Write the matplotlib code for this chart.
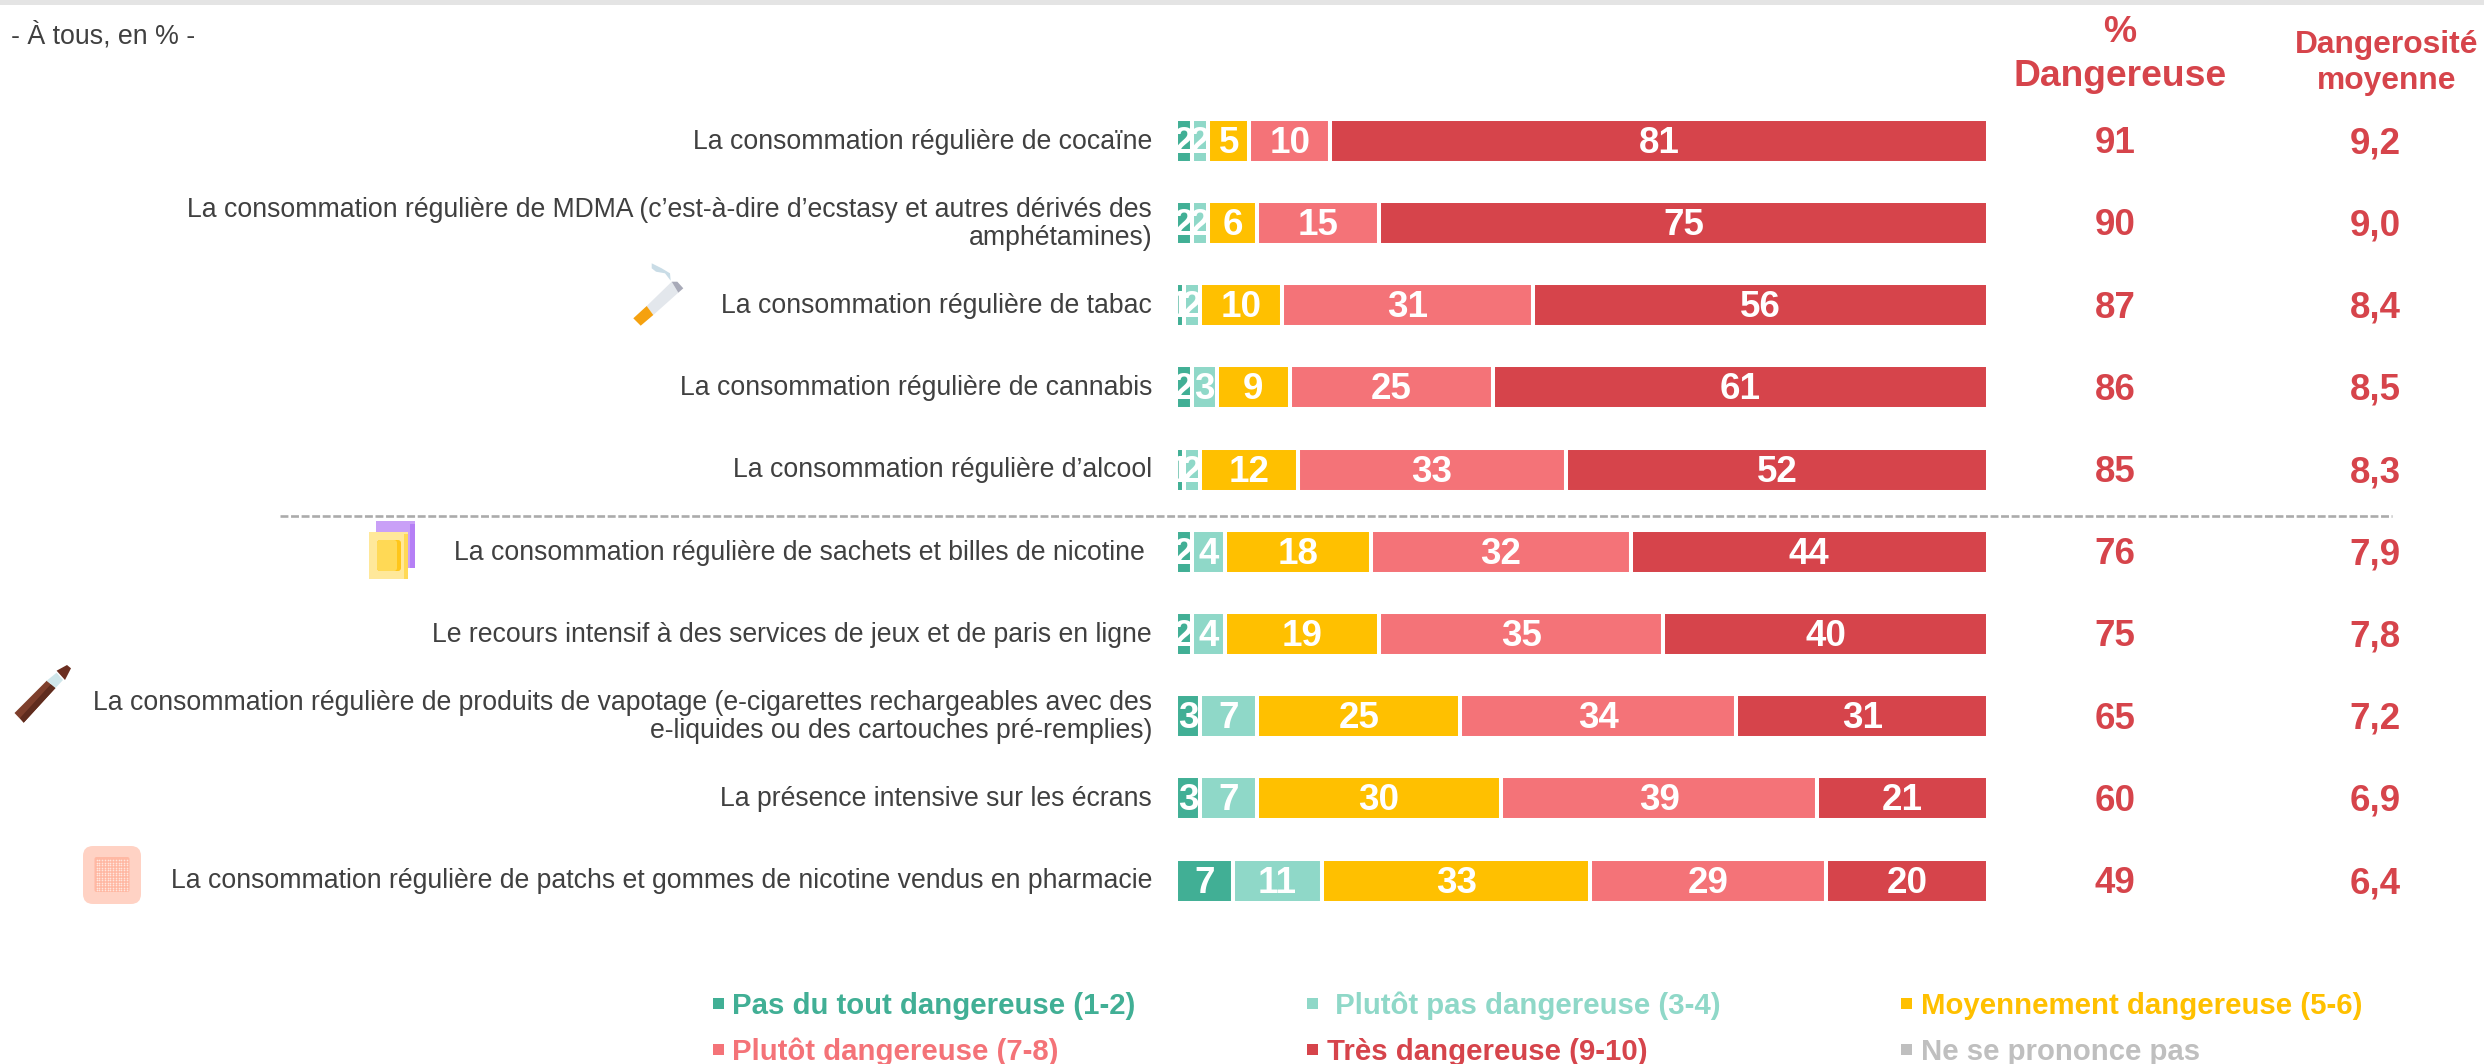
import matplotlib
matplotlib.use('Agg')
import matplotlib.pyplot as plt
from matplotlib.patches import Rectangle, Polygon, FancyBboxPatch
from matplotlib.transforms import blended_transform_factory

plt.rcParams['font.family'] = ['Liberation Sans', 'DejaVu Sans']

# Data
categories = [
    "La consommation régulière de cocaïne",
    "La consommation régulière de MDMA (c’est-à-dire d’ecstasy et autres dérivés des\namphétamines)",
    "La consommation régulière de tabac",
    "La consommation régulière de cannabis",
    "La consommation régulière d’alcool",
    "La consommation régulière de sachets et billes de nicotine ",
    "Le recours intensif à des services de jeux et de paris en ligne",
    "La consommation régulière de produits de vapotage (e-cigarettes rechargeables avec des\ne-liquides ou des cartouches pré-remplies)",
    "La présence intensive sur les écrans",
    "La consommation régulière de patchs et gommes de nicotine vendus en pharmacie",
]
pas_du_tout = [2, 2, 1, 2, 1, 2, 2, 3, 3, 7]
plutot_pas = [2, 2, 2, 3, 2, 4, 4, 7, 7, 11]
moyen = [5, 6, 10, 9, 12, 18, 19, 25, 30, 33]
plutot = [10, 15, 31, 25, 33, 32, 35, 34, 39, 29]
tres = [81, 75, 56, 61, 52, 44, 40, 31, 21, 20]
pct_dangereuse = ['91', '90', '87', '86', '85', '76', '75', '65', '60', '49']
moyenne = ['9,2', '9,0', '8,4', '8,5', '8,3', '7,9', '7,8', '7,2', '6,9', '6,4']

series = [pas_du_tout, plutot_pas, moyen, plutot, tres]
colors = ['#41AF95', '#8FD8C8', '#FFC000', '#F47378', '#D6444B']
legend_labels = [
    "Pas du tout dangereuse (1-2)", " Plutôt pas dangereuse (3-4)", "Moyennement dangereuse (5-6)",
    "Plutôt dangereuse (7-8)", "Très dangereuse (9-10)", "Ne se prononce pas",
]
legend_colors = colors + ['#BFBFBF']

W, H = 2484, 1064
fig = plt.figure(figsize=(W / 100, H / 100), dpi=100, facecolor='white')

# overlay in pixel coordinates for header, separator, icons and legend
fa = fig.add_axes([0, 0, 1, 1])
fa.set_xlim(0, W)
fa.set_ylim(H, 0)
fa.axis('off')

ax = fig.add_axes([1176 / W, (H - 921.7) / H, 812 / W, 822 / H])
ax.patch.set_alpha(0)
ax.set_xlim(0, 100)
ax.set_ylim(9.5, -0.5)
ax.axis('off')

# Stacked bars
for i in range(len(categories)):
    left = 0
    for values, color in zip(series, colors):
        v = values[i]
        ax.barh(i, v, left=left, height=0.535, color=color, edgecolor='white', linewidth=2.9)
        left += v

for i in range(len(categories)):
    left = 0
    for values in series:
        v = values[i]
        ax.text(left + v / 2, i + 0.03, str(v), color='white', fontsize=26.5, fontweight='bold',
                ha='center', va='center', clip_on=False)
        left += v

# Row labels and right-hand columns
row_tr = blended_transform_factory(fa.transData, ax.transData)
for i, cat in enumerate(categories):
    fa.text(1152, i + 0.01, cat, transform=row_tr, ha='right', va='center', multialignment='right',
            fontsize=19.2, color='#404040', linespacing=1.1)
    fa.text(2115, i + 0.036, pct_dangereuse[i], transform=row_tr, ha='center', va='center',
            fontsize=26.5, fontweight='bold', color=colors[4])
    fa.text(2375, i + 0.036, moyenne[i], transform=row_tr, ha='center', va='center',
            fontsize=26.5, fontweight='bold', color=colors[4])

# Header
fa.add_patch(Rectangle((0, 0), W, 5, facecolor='#E4E4E4', edgecolor='none'))
fa.text(11, 36, "- À tous, en % -", fontsize=19.3, color='#404040', ha='left', va='center')
fa.text(2120, 42, "%", fontsize=26.8, fontweight='bold', color=colors[4], ha='center', va='baseline')
fa.text(2120, 86, "Dangereuse", fontsize=26.8, fontweight='bold', color=colors[4], ha='center', va='baseline')
fa.text(2387, 53, "Dangerosité", fontsize=22.9, fontweight='bold', color=colors[4], ha='center', va='baseline')
fa.text(2387, 89, "moyenne", fontsize=22.9, fontweight='bold', color=colors[4], ha='center', va='baseline')

# Separator
fa.plot([280, 2392], [516, 516], color='#ABABAB', linewidth=1.9, linestyle=(0, (3, 1)))

# Legend
marker_x = [713, 1307, 1901, 713, 1307, 1901]
text_x = [732, 1327, 1921, 732, 1327, 1921]
row_y = [1003, 1003, 1003, 1049, 1049, 1049]
for mx, tx, y, lab, col in zip(marker_x, text_x, row_y, legend_labels, legend_colors):
    fa.add_patch(Rectangle((mx, y - 5.5), 11, 11, facecolor=col, edgecolor='none'))
    fa.text(tx, y + 2.5, lab, fontsize=21.2, fontweight='bold', color=col, ha='left', va='center')

# Cigarette icon
fa.add_patch(Polygon([(651.7, 263.3), (661.7, 268.3), (670, 273.3), (670.7, 280.7), (665, 273.3), (656, 271.7), (651.7, 268.3)],
                     facecolor='#C9DCE6', edgecolor='none'))
fa.add_patch(Polygon([(646.7, 306), (653.3, 315), (678.3, 292.7), (671.7, 281.7)], facecolor='#E3E7EC', edgecolor='none'))
fa.add_patch(Polygon([(671.7, 281.7), (677.3, 281.7), (683.3, 288.3), (678.3, 292.7)], facecolor='#A8AAB8', edgecolor='none'))
fa.add_patch(Polygon([(633.3, 318.3), (640.7, 325.7), (653.3, 315), (646.7, 306)], facecolor='#F5A10F', edgecolor='none'))

# Sachets icon
fa.add_patch(Rectangle((376, 521), 39, 47, facecolor='#C9A0F7', edgecolor='none'))
fa.add_patch(Rectangle((409.5, 524), 5.5, 44, facecolor='#B57FF5', edgecolor='none'))
fa.add_patch(Rectangle((369, 532), 39, 47, facecolor='#FFE89A', edgecolor='none'))
fa.add_patch(Rectangle((404, 534), 4, 45, facecolor='#FFD955', edgecolor='none'))
fa.add_patch(FancyBboxPatch((377, 540), 24, 31, boxstyle='round,pad=0,rounding_size=3',
                            facecolor='#FFC61A', edgecolor='none'))
fa.add_patch(FancyBboxPatch((377, 540), 20, 31, boxstyle='round,pad=0,rounding_size=3',
                            facecolor='#FFD955', edgecolor='none'))

# Vape icon
fa.add_patch(Polygon([(14.5, 713), (23.7, 722.7), (55.5, 688), (46.7, 680.7)], facecolor='#7E3F2C', edgecolor='none'))
fa.add_patch(Polygon([(20, 718), (23.7, 722.7), (55.5, 688), (51, 684)], facecolor='#5F2C1E', edgecolor='none'))
fa.add_patch(Polygon([(46.7, 680.7), (55.5, 688), (63, 680), (56.6, 672.7)], facecolor='#CFE6EA', edgecolor='none'))
fa.add_patch(Polygon([(56.6, 670.7), (67, 665), (71, 668.3), (65, 680)], facecolor='#6B2E20', edgecolor='none'))

# Patch icon
fa.add_patch(FancyBboxPatch((83, 846), 58, 58, boxstyle='round,pad=0,rounding_size=10',
                            facecolor='#FFD2C4', edgecolor='none'))
fa.add_patch(FancyBboxPatch((94.5, 857), 35, 35, boxstyle='round,pad=0,rounding_size=2',
                            facecolor='#FFB8A3', edgecolor='none'))
dots_x = [96.5 + 2.75 * k for k in range(12)]
dots_y = [860 + 2.5 * k for k in range(13)]
fa.scatter([x for x in dots_x for y in dots_y], [y for x in dots_x for y in dots_y], s=1.4, color='#FFE6DE', linewidths=0)

fa.set_xlim(0, W)
fa.set_ylim(H, 0)
fig.savefig('out.png', dpi=100)
